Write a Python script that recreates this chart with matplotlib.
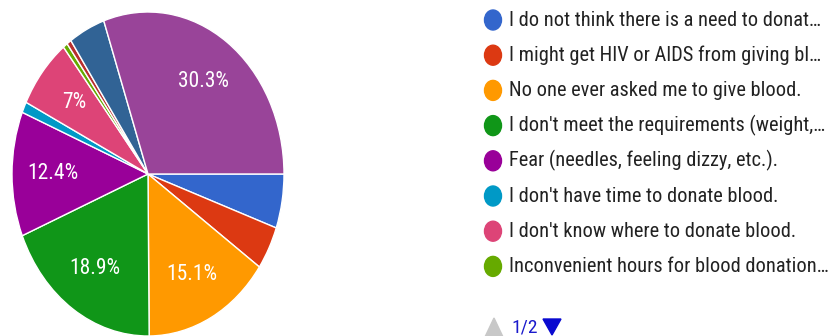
import matplotlib
matplotlib.use("Agg")
import matplotlib.pyplot as plt
from matplotlib.patches import Ellipse, Polygon

plt.rcParams["font.family"] = ["Roboto Condensed", "Liberation Sans", "DejaVu Sans"]

# Survey answers (response counts, N = 185). Only the first 8 are listed on page 1 of the legend.
counts = [10, 8, 28, 35, 23, 2, 13, 1, 1, 8, 56]
colors = ["#3366cc", "#dc3912", "#ff9900", "#109618", "#990099", "#0099c6",
          "#dd4477", "#66aa00", "#b82e2e", "#316395", "#994499"]
legend_labels = [
    "I do not think there is a need to donat\u2026",
    "I might get HIV or AIDS from giving bl\u2026",
    "No one ever asked me to give blood.",
    "I don't meet the requirements (weight,\u2026",
    "Fear (needles, feeling dizzy, etc.).",
    "I don't have time to donate blood.",
    "I don't know where to donate blood.",
    "Inconvenient hours for blood donation\u2026",
]
page_text = "1/2"

W, H = 835, 336
fig = plt.figure(figsize=(W / 100, H / 100), dpi=100)

# pie squashed into an ellipse: fill an axes box with auto aspect
cx, cy, rx, ry = 148, 174, 136, 162
ax = fig.add_axes([(cx - rx) / W, (H - cy - ry) / H, 2 * rx / W, 2 * ry / H])


def pct_label(p):
    if p < 6:
        return ""
    return f"{p:.1f}".rstrip("0").rstrip(".") + "%"


wedges, texts, autotexts = ax.pie(
    counts, colors=colors, startangle=0, counterclock=False, radius=1,
    autopct=pct_label, pctdistance=0.7,
    wedgeprops=dict(edgecolor="white", linewidth=1.0),
    textprops=dict(color="white", fontsize=15.5),
)
ax.set_aspect("auto")
ax.set_xlim(-1, 1)
ax.set_ylim(-1, 1)
ax.axis("off")

# legend drawn in pixel coordinates
lg = fig.add_axes([0, 0, 1, 1])
lg.set_xlim(0, W)
lg.set_ylim(H, 0)
lg.axis("off")
row_y0, row_dy = 20, 35.2
for i, (lab, col) in enumerate(zip(legend_labels, colors)):
    y = row_y0 + i * row_dy
    lg.add_patch(Ellipse((493, y), 17, 20, color=col))
    lg.text(509, y, lab, fontsize=14.7, color="#222222", va="center", ha="left")

# pager
py = 327
lg.add_patch(Polygon([[485, py + 10], [503, py + 10], [494, py - 9]], closed=True, color="#c8c8c8"))
lg.text(511, py, page_text, fontsize=14, color="#1a1acc", va="center", ha="left")
lg.add_patch(Polygon([[543, py - 8], [561, py - 8], [552, py + 8]], closed=True, color="#0a0ad0"))

fig.savefig("out.png", dpi=100)
